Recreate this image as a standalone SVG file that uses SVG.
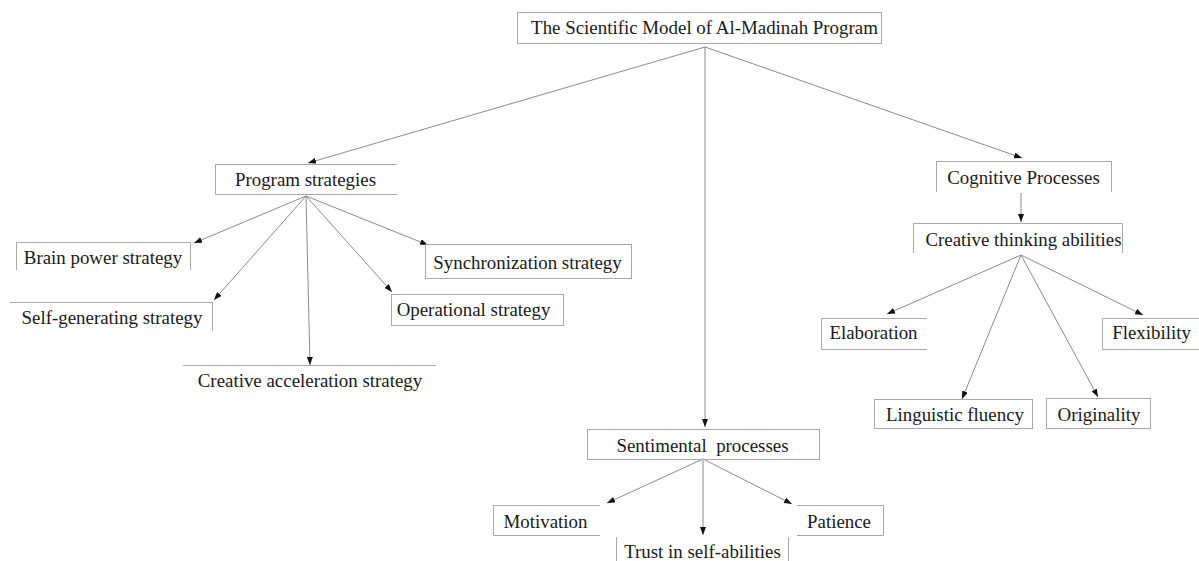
<svg xmlns="http://www.w3.org/2000/svg" width="1199" height="561" viewBox="0 0 1199 561">
  <style>
    .box { fill: none; stroke: #a8a8a8; stroke-width: 1; }
    .lbl { font-family: "Liberation Serif", "Times New Roman", serif; font-size: 18.9px; fill: #1a1a1a; text-anchor: middle; }
    .edge { fill: none; stroke: #8c8c8c; stroke-width: 1; marker-end: url(#arrow); }
  </style>
  <defs>
    <marker id="arrow" markerWidth="8" markerHeight="6" refX="8" refY="3" orient="auto" markerUnits="userSpaceOnUse">
      <path d="M0,0 L8,3 L0,6 z" fill="#111"/>
    </marker>
  </defs>
  <rect width="1199" height="561" fill="#ffffff"/>

  <!-- connectors -->
  <g id="connectors">
    <line class="edge" x1="705" y1="47" x2="308" y2="163"/>
    <line class="edge" x1="705" y1="47" x2="705" y2="427"/>
    <line class="edge" x1="705" y1="47" x2="1022" y2="158"/>
    <line class="edge" x1="306" y1="196" x2="194" y2="243"/>
    <line class="edge" x1="306" y1="196" x2="214" y2="300"/>
    <line class="edge" x1="306" y1="196" x2="310" y2="365"/>
    <line class="edge" x1="306" y1="196" x2="392" y2="292"/>
    <line class="edge" x1="306" y1="196" x2="428" y2="245"/>
    <line class="edge" x1="1021" y1="193" x2="1021" y2="222"/>
    <line class="edge" x1="1021" y1="255" x2="887" y2="314"/>
    <line class="edge" x1="1021" y1="255" x2="962" y2="399"/>
    <line class="edge" x1="1021" y1="255" x2="1098" y2="397"/>
    <line class="edge" x1="1021" y1="255" x2="1143" y2="315"/>
    <line class="edge" x1="703" y1="459" x2="607" y2="503"/>
    <line class="edge" x1="703" y1="459" x2="703" y2="535"/>
    <line class="edge" x1="703" y1="459" x2="792" y2="504"/>
  </g>

  <g id="root">
    <rect class="box" x="517.5" y="12.5" width="364" height="31"/>
    <text class="lbl" x="704.5" y="34">The Scientific Model of Al-Madinah Program</text>
  </g>

  <g id="program-strategies">
    <path class="box" d="M397,164.5 H215.5 V194.5 H397"/>
    <text class="lbl" x="305.5" y="186">Program strategies</text>
  </g>
  <g id="brain-power">
    <path class="box" d="M16.5,270 V242.5 H190.5 V270"/>
    <text class="lbl" x="103" y="264">Brain power strategy</text>
  </g>
  <g id="self-generating">
    <path class="box" d="M10,302.5 H212.5 V331"/>
    <text class="lbl" x="112" y="324">Self-generating strategy</text>
  </g>
  <g id="synchronization">
    <rect class="box" x="425.5" y="244.5" width="206" height="34"/>
    <text class="lbl" x="527.5" y="269">Synchronization strategy</text>
  </g>
  <g id="operational">
    <rect class="box" x="391.5" y="294.5" width="172" height="31"/>
    <text class="lbl" x="473.5" y="316">Operational strategy</text>
  </g>
  <g id="creative-acceleration">
    <path class="box" d="M183,365.5 H436"/>
    <text class="lbl" x="310" y="387">Creative acceleration strategy</text>
  </g>

  <g id="cognitive-processes">
    <path class="box" d="M936.5,192 V161.5 H1111.5 V192"/>
    <text class="lbl" x="1023.5" y="184">Cognitive Processes</text>
  </g>
  <g id="creative-thinking">
    <path class="box" d="M913.5,253 V223.5 H1122.5 V253"/>
    <text class="lbl" x="1023.5" y="246">Creative thinking abilities</text>
  </g>
  <g id="elaboration">
    <path class="box" d="M927,318.5 H821.5 V349.5 H927"/>
    <text class="lbl" x="873.5" y="339">Elaboration</text>
  </g>
  <g id="flexibility">
    <path class="box" d="M1199,318.5 H1102.5 V349.5 H1199"/>
    <text class="lbl" x="1151.5" y="339">Flexibility</text>
  </g>
  <g id="linguistic-fluency">
    <rect class="box" x="874.5" y="399.5" width="158" height="29"/>
    <text class="lbl" x="955" y="421">Linguistic fluency</text>
  </g>
  <g id="originality">
    <rect class="box" x="1046.5" y="398.5" width="104" height="30"/>
    <text class="lbl" x="1099" y="421">Originality</text>
  </g>

  <g id="sentimental-processes">
    <rect class="box" x="587.5" y="429.5" width="232" height="30"/>
    <text class="lbl" x="702.5" y="452" xml:space="preserve">Sentimental  processes</text>
  </g>
  <g id="motivation">
    <path class="box" d="M600,505.5 H493.5 V535.5 H600"/>
    <text class="lbl" x="545.5" y="528">Motivation</text>
  </g>
  <g id="patience">
    <path class="box" d="M797,505.5 H883.5 V535.5 H797"/>
    <text class="lbl" x="839" y="528">Patience</text>
  </g>
  <g id="trust">
    <path class="box" d="M616.5,537 V561 M788.5,537 V561"/>
    <text class="lbl" x="702.5" y="558">Trust in self-abilities</text>
  </g>
</svg>
